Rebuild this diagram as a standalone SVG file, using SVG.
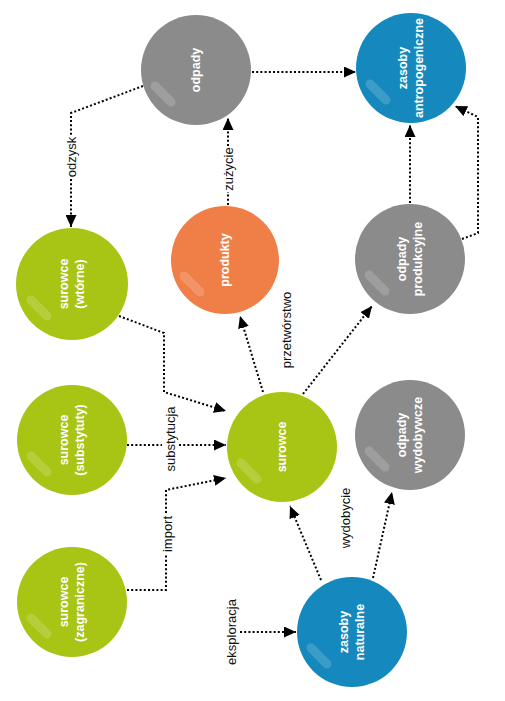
<svg xmlns="http://www.w3.org/2000/svg" width="505" height="701" viewBox="0 0 505 701">
<style>
.gray{fill:#8b8b8b}
.blue{fill:#1589bd}
.green{fill:#a8c414}
.orange{fill:#ef7f47}
.hl{stroke:#ffffff;stroke-opacity:0.17;stroke-width:9;stroke-linecap:round;fill:none}
.nt{font-family:"Liberation Sans",Arial,sans-serif;font-weight:bold;font-size:12.5px;fill:#ffffff;text-anchor:middle}
.lb{font-family:"Liberation Sans",Arial,sans-serif;font-size:13px;fill:#111111;text-anchor:middle}
.cn{stroke:#000000;stroke-width:2;stroke-dasharray:2 2.2;fill:none}
</style>
<defs>
<marker id="ah" markerUnits="userSpaceOnUse" markerWidth="13" markerHeight="11" refX="12" refY="5.5" orient="auto">
<path d="M0,0 L12,5.5 L0,11 Z" fill="#000000"/>
</marker>
</defs>
<g id="connectors">
<path class="cn" d="M252,72 L356,72" marker-end="url(#ah)"/>
<path class="cn" d="M143,86 L71,113 L71,136"/>
<path class="cn" d="M71,179 L71,227" marker-end="url(#ah)"/>
<path class="cn" d="M228,205 L228,192"/>
<path class="cn" d="M228,146 L228,118" marker-end="url(#ah)"/>
<path class="cn" d="M410,203 L410,125" marker-end="url(#ah)"/>
<path class="cn" d="M462,239 L478,233 L478,117 L455,106" marker-end="url(#ah)"/>
<path class="cn" d="M263,392 L240,316" marker-end="url(#ah)"/>
<path class="cn" d="M303,394 L372,306" marker-end="url(#ah)"/>
<path class="cn" d="M119,316 L164,333 L164,392 L226,411" marker-end="url(#ah)"/>
<path class="cn" d="M127,445 L162,445"/>
<path class="cn" d="M179,445 L226,445" marker-end="url(#ah)"/>
<path class="cn" d="M127,590 L166,590 L166,555"/>
<path class="cn" d="M166,513 L166,490 L226,478" marker-end="url(#ah)"/>
<path class="cn" d="M321,580 L290,506" marker-end="url(#ah)"/>
<path class="cn" d="M373,578 L392,492" marker-end="url(#ah)"/>
<path class="cn" d="M240,632 L296,632" marker-end="url(#ah)"/>
</g>
<g id="labels">
<text class="lb" transform="translate(71,157) rotate(-90)" dy=".35em">odzysk</text>
<text class="lb" transform="translate(228,169) rotate(-90)" dy=".35em">zużycie</text>
<text class="lb" transform="translate(286,330) rotate(-90)" dy=".35em">przetwórstwo</text>
<text class="lb" transform="translate(170,439) rotate(-90)" dy=".35em">substytucja</text>
<text class="lb" transform="translate(167,534) rotate(-90)" dy=".35em">import</text>
<text class="lb" transform="translate(345,518) rotate(-90)" dy=".35em">wydobycie</text>
<text class="lb" transform="translate(231,632) rotate(-90)" dy=".35em">eksploracja</text>
</g>
<g id="node-odpady">
<circle class="gray" cx="196" cy="70" r="55"/>
<path class="hl" d="M155,86 L171,102"/>
<text class="nt" transform="translate(196,70) rotate(-90)" dy=".35em">odpady</text>
</g>
<g id="node-zasoby-antropogeniczne">
<circle class="blue" cx="411" cy="68" r="55"/>
<path class="hl" d="M370,84 L386,100"/>
<text class="nt" transform="translate(411,68) rotate(-90)"><tspan x="0" y="-4">zasoby</tspan><tspan x="0" y="12">antropogeniczne</tspan></text>
</g>
<g id="node-produkty">
<circle class="orange" cx="225" cy="260" r="54"/>
<path class="hl" d="M184,276 L200,292"/>
<text class="nt" transform="translate(225,260) rotate(-90)" dy=".35em">produkty</text>
</g>
<g id="node-odpady-produkcyjne">
<circle class="gray" cx="410" cy="259" r="55"/>
<path class="hl" d="M369,275 L385,291"/>
<text class="nt" transform="translate(410,259) rotate(-90)"><tspan x="0" y="-4">odpady</tspan><tspan x="0" y="12">produkcyjne</tspan></text>
</g>
<g id="node-surowce-wtorne">
<circle class="green" cx="72" cy="284" r="56"/>
<path class="hl" d="M31,300 L47,316"/>
<text class="nt" transform="translate(72,284) rotate(-90)"><tspan x="0" y="-4">surowce</tspan><tspan x="0" y="12">(wtórne)</tspan></text>
</g>
<g id="node-surowce-substytuty">
<circle class="green" cx="72" cy="440" r="55"/>
<path class="hl" d="M31,456 L47,472"/>
<text class="nt" transform="translate(72,440) rotate(-90)"><tspan x="0" y="-4">surowce</tspan><tspan x="0" y="12">(substytuty)</tspan></text>
</g>
<g id="node-surowce-zagraniczne">
<circle class="green" cx="72" cy="602" r="55"/>
<path class="hl" d="M31,618 L47,634"/>
<text class="nt" transform="translate(72,602) rotate(-90)"><tspan x="0" y="-4">surowce</tspan><tspan x="0" y="12">(zagraniczne)</tspan></text>
</g>
<g id="node-surowce">
<circle class="green" cx="282" cy="447" r="55"/>
<path class="hl" d="M241,463 L257,479"/>
<text class="nt" transform="translate(282,447) rotate(-90)" dy=".35em">surowce</text>
</g>
<g id="node-odpady-wydobywcze">
<circle class="gray" cx="410" cy="435" r="55"/>
<path class="hl" d="M369,451 L385,467"/>
<text class="nt" transform="translate(410,435) rotate(-90)"><tspan x="0" y="-4">odpady</tspan><tspan x="0" y="12">wydobywcze</tspan></text>
</g>
<g id="node-zasoby-naturalne">
<circle class="blue" cx="352" cy="632" r="55"/>
<path class="hl" d="M311,648 L327,664"/>
<text class="nt" transform="translate(352,632) rotate(-90)"><tspan x="0" y="-4">zasoby</tspan><tspan x="0" y="12">naturalne</tspan></text>
</g>
</svg>
